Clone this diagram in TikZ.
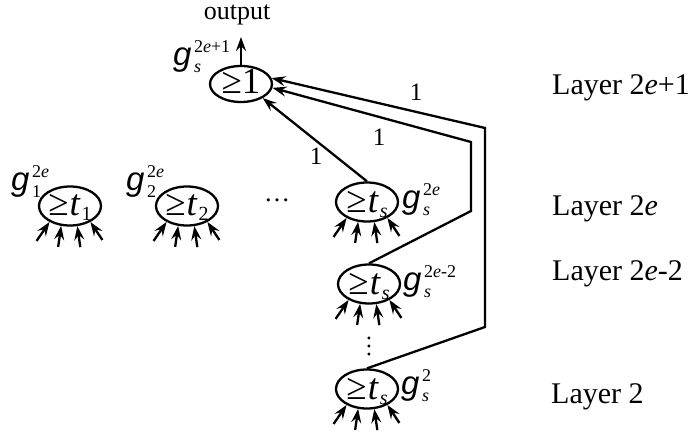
\documentclass[tikz,border=0pt]{standalone}
\usepackage{fontspec}
\setmainfont{Liberation Serif}
\newfontfamily\gfont{Liberation Sans}
\usetikzlibrary{arrows.meta,calc,shapes.geometric}

% threshold text inside a gate: >= t_sub
\newcommand\thr[2]{≥\kern1pt\textit{#1}\kern1pt\raisebox{-0.16em}{\fontsize{20}{20}\selectfont #2}}
% gate name g_sub^sup
\newcommand\gname[2]{{\gfont\itshape g}\kern2.5pt\rlap{\raisebox{13pt}{\fontsize{18}{18}\selectfont #2}}\raisebox{-7pt}{\fontsize{18}{18}\selectfont #1}}

\begin{document}
\begin{tikzpicture}[x=1pt,y=-1pt,
  gate/.style={ellipse,draw,line width=2.3pt,minimum width=62pt,minimum height=39pt,inner sep=0pt},
  gtext/.style={anchor=base,inner sep=0pt,font=\fontsize{37}{37}\selectfont},
  gnm/.style={anchor=base west,inner sep=0pt,font=\fontsize{33}{33}\selectfont},
  layer/.style={anchor=base west,inner sep=0pt,font=\fontsize{30}{30}\selectfont},
  wt/.style={inner sep=0pt,font=\fontsize{25}{25}\selectfont},
  wire/.style={line width=2.3pt,line join=miter},
  feed/.style={wire,-{Stealth[length=14pt,width=10pt,inset=5pt]}}
]
\useasboundingbox (0,0) rectangle (694,441);

% four input wires entering a gate from below
\newcommand\inputs[1]{%
  \foreach \a/\dx/\dy in {-142/-13/19,-114/-3/21,-70/3/21,-38/12/18}
    \draw[feed] ($(#1.\a)+(\dx,\dy)$) -- (#1.\a);}

% gates
\node[gate,minimum height=36pt] (T) at (241,84) {};
\node[gate] (G1) at (70,206) {};
\node[gate] (G2) at (187,206) {};
\node[gate] (S1) at (367,202) {};
\node[gate] (S2) at (369,284) {};
\node[gate] (S3) at (367,389) {};

% thresholds
\node[gtext] (tT)  at ([yshift=-10pt]T.center)  {≥1};
\node[gtext] (tG1) at ([yshift=-9pt]G1.center) {\thr{t}{1}};
\node[gtext] (tG2) at ([yshift=-9pt]G2.center) {\thr{t}{2}};
\node[gtext] (tS1) at ([yshift=-10pt]S1.center) {\thr{t}{\itshape s}};
\node[gtext] (tS2) at ([yshift=-10pt]S2.center) {\thr{t}{\itshape s}};
\node[gtext] (tS3) at ([yshift=-10pt]S3.center) {\thr{t}{\itshape s}};

% gate names
\node[gnm] (nT)  at (173,66)  {\gname{\itshape s}{2\textit{e}+1}};
\node[gnm] (nG1) at (11,190)  {\gname{1}{2\textit{e}}};
\node[gnm] (nG2) at (126,190) {\gname{2}{2\textit{e}}};
\node[gnm] (nS1) at (402,208) {\gname{\itshape s}{2\textit{e}}};
\node[gnm] (nS2) at (403,290) {\gname{\itshape s}{2\textit{e}-2}};
\node[gnm] (nS3) at (401,394) {\gname{\itshape s}{2}};

% inputs
\inputs{G1}
\inputs{G2}
\inputs{S1}
\inputs{S2}
\inputs{S3}

% output
\coordinate (out) at (241,37);
\draw[feed] (T.north) -- (out);
\node[anchor=base,inner sep=0pt,font=\fontsize{26}{26}\selectfont] (outl) at (237,20) {output};

% connections into the OR gate
\coordinate (a1) at (471,211);
\coordinate (a2) at (471,142);
\coordinate (b1) at (485,327);
\coordinate (b2) at (485,128);
\draw[feed] (S1.north) -- (T.-33);
\draw[feed] (S2.north) -- (a1) -- (a2) -- (T.-7);
\draw[feed] (S3.north) -- (b1) -- (b2) -- (T.11);

\node[wt] (w1) at (316,156) {1};
\node[wt] (w2) at (379,137) {1};
\node[wt] (w3) at (416,92) {1};

% ellipses
\node[inner sep=0pt,font=\fontsize{26}{26}\selectfont,anchor=base] (hd) at (277,201) {…};
\node[inner sep=0pt,font=\fontsize{24}{24}\selectfont,rotate=90] (vd) at (369,346) {…};

% layer labels
\node[layer] (L1) at (552,95)  {Layer 2\textit{e}+1};
\node[layer] (L2) at (552,215) {Layer 2\textit{e}};
\node[layer] (L3) at (552,280) {Layer 2\textit{e}-2};
\node[layer] (L4) at (551,403) {Layer 2};
\end{tikzpicture}
\end{document}
